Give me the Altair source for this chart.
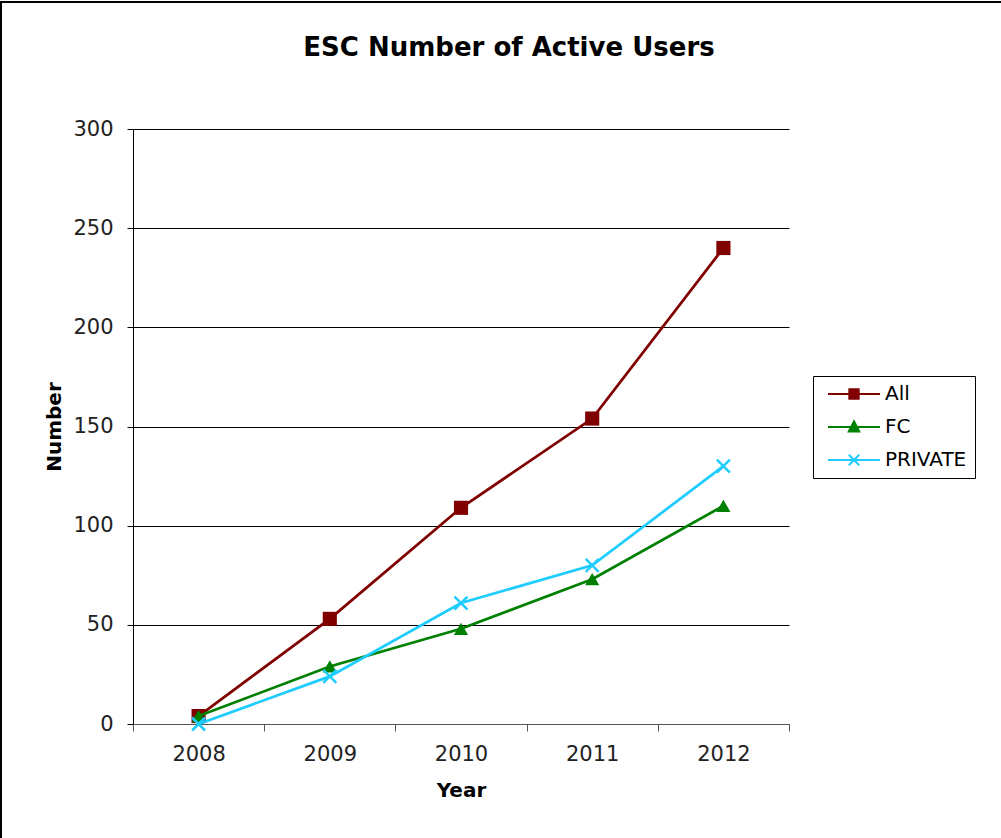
import altair as alt
import pandas as pd

# ---- data ----
years = ["2008", "2009", "2010", "2011", "2012"]
series_names = ["All", "FC", "PRIVATE"]
all_users = [4, 53, 109, 154, 240]
fc_users = [4, 29, 48, 73, 110]
private_users = [0, 24, 61, 80, 130]
y_ticks = [0, 50, 100, 150, 200, 250, 300]

series_colors = ["#800000", "#008000", "#1ECCFF"]

rows = []
for name, vals in zip(series_names, [all_users, fc_users, private_users]):
    for yr, v in zip(years, vals):
        rows.append({"Year": yr, "Number": v, "Series": name})
df = pd.DataFrame(rows)

FONT = "DejaVu Sans"

x_enc = alt.X(
    "Year:O",
    scale=alt.Scale(type="band", paddingInner=0, paddingOuter=0, domain=years),
    axis=alt.Axis(
        title="Year", labelAngle=0, tickBand="extent", tickSize=7,
        labelPadding=12, titlePadding=16, grid=False,
        domainColor="#555555", tickColor="#555555",
    ),
)
y_enc = alt.Y(
    "Number:Q",
    scale=alt.Scale(domain=[0, 300], nice=False),
    axis=alt.Axis(
        title="Number", values=y_ticks, tickSize=6, labelPadding=14,
        titlePadding=8, grid=True, gridColor="#000000", gridWidth=1,
        gridOpacity=1, domainColor="#000000", tickColor="#000000",
    ),
)

base = alt.Chart(df)

# Legend paths (line through marker); unit = sqrt(size)/2 = 6 px
legend_paths = [
    "M-4.33,0H4.33M-0.78,-0.78H0.78V0.78H-0.78ZM-0.48,-0.48H0.48V0.48H-0.48ZM-0.17,-0.17H0.17V0.17H-0.17Z",
    "M-4.33,0H4.33M0,-0.95L0.87,0.73L-0.87,0.73ZM0,-0.45L0.48,0.48L-0.48,0.48ZM0,0L0.13,0.25L-0.13,0.25Z",
    "M-4.33,0H4.33M-0.87,-0.87L0.87,0.87M-0.87,0.87L0.87,-0.87",
]
xmark = "M-1,-1L1,1M-1,1L1,-1"

leg = alt.Legend(
    title=None, orient="none", legendX=680, legendY=247, padding=8,
    strokeColor="#000000", fillColor="#ffffff",
    labelFont=FONT, labelFontSize=20, labelColor="#000000",
    symbolSize=144, symbolStrokeWidth=2, symbolOpacity=1,
    symbolOffset=23, labelOffset=21, rowPadding=13,
)

legend_layer = base.mark_point(filled=False, opacity=0, size=144, strokeWidth=2).encode(
    x=x_enc, y=y_enc,
    color=alt.Color("Series:N", scale=alt.Scale(domain=series_names, range=series_colors), legend=leg),
    shape=alt.Shape("Series:N", scale=alt.Scale(domain=series_names, range=legend_paths), legend=leg),
)

layers = []
marker_specs = [
    dict(shape="square", filled=True, size=200, strokeWidth=0),
    dict(shape="triangle-up", filled=True, size=200, strokeWidth=0),
    dict(shape=xmark, filled=False, size=169, strokeWidth=2.5),
]
for name, col, ms in zip(series_names, series_colors, marker_specs):
    sub = base.transform_filter(alt.datum.Series == name)
    layers.append(sub.mark_line(color=col, strokeWidth=2.75).encode(x=x_enc, y=y_enc))
    if ms["filled"]:
        layers.append(sub.mark_point(shape=ms["shape"], filled=True, size=ms["size"],
                                     color=col, opacity=1).encode(x=x_enc, y=y_enc))
    else:
        layers.append(sub.mark_point(shape=ms["shape"], filled=False, size=ms["size"],
                                     color=col, strokeWidth=ms["strokeWidth"], opacity=1).encode(x=x_enc, y=y_enc))

border = alt.Chart(alt.Data(values=[{}])).mark_rect(
    filled=False, stroke="#000000", strokeWidth=2
).encode(x=alt.value(-132), x2=alt.value(1100), y=alt.value(-127), y2=alt.value(1000))

chart = alt.layer(border, *layers, legend_layer).properties(
    width=656, height=595,
    background="#ffffff",
    title=alt.TitleParams(
        text="ESC Number of Active Users", font=FONT, fontSize=26, fontWeight="bold",
        anchor="middle", frame="group", dx=48, offset=0, dy=81, baseline="alphabetic",
        color="#000000",
    ),
    autosize=alt.AutoSizeParams(type="none"),
    padding={"left": 133, "top": 129, "right": 212, "bottom": 114},
).configure_view(stroke=None).configure_axis(
    labelFont=FONT, labelFontSize=21, labelColor="#222222",
    titleFont=FONT, titleFontSize=20, titleFontWeight="bold", titleColor="#000000",
)

chart.save("out.html", embed_options={"renderer": "svg", "actions": False})
